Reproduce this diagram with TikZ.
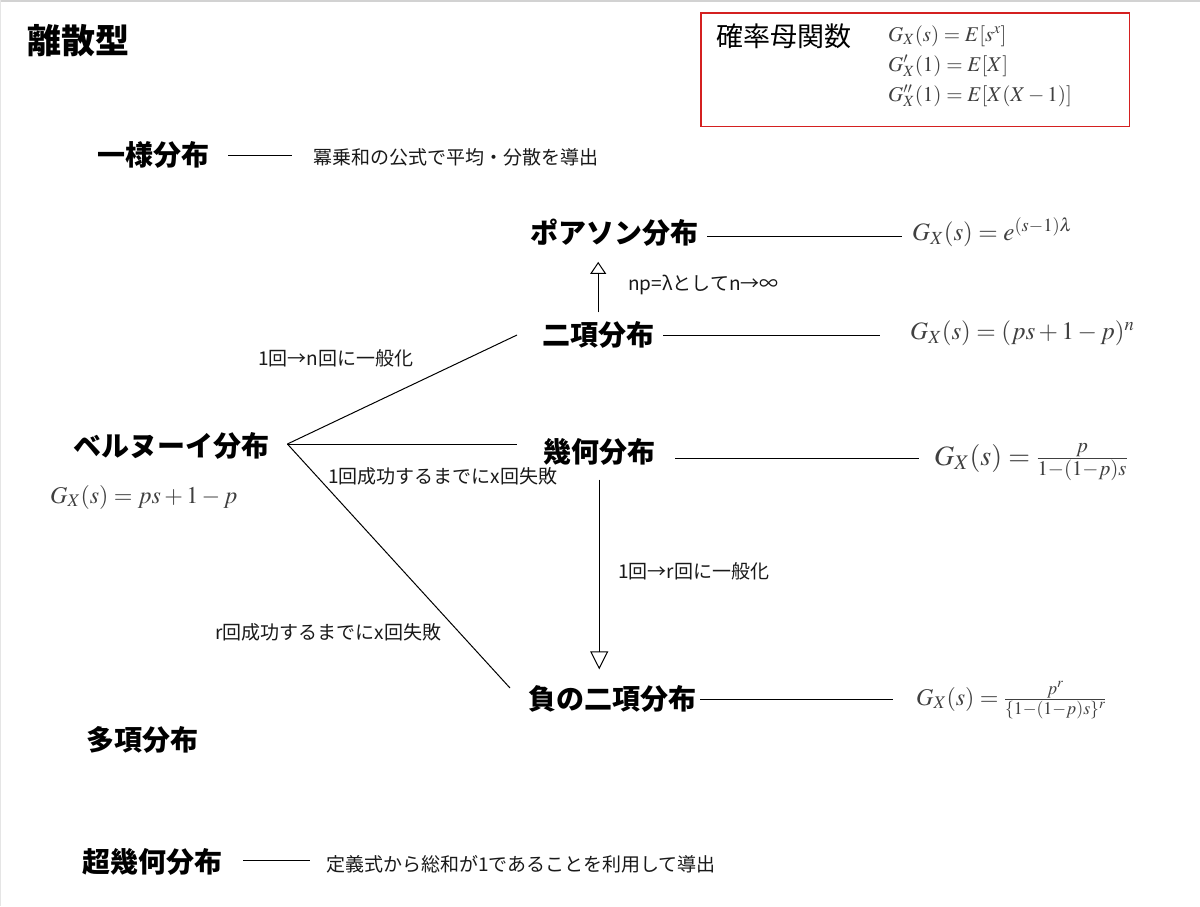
\documentclass[tikz,border=0pt]{standalone}
\usepackage{mathptmx}
\usepackage[no-math]{fontspec}
\newfontfamily\jp{Noto Sans CJK JP}
\usetikzlibrary{arrows.meta,calc}
\definecolor{boxred}{RGB}{212,32,32}
\tikzset{
  head/.style={font=\jp\bfseries\fontsize{28}{32}\selectfont, inner sep=0pt, anchor=west},
  note/.style={font=\jp\fontsize{19}{23}\selectfont, inner sep=0pt, anchor=west, text=black!90},
  formula/.style={font=\fontsize{25}{29}\selectfont, inner sep=0pt, anchor=west, text=black!75},
  boxformula/.style={formula, font=\fontsize{21}{25}\selectfont, anchor=base west},
  link/.style={draw=black, line width=1pt},
  openarrow/.style={-{Triangle[open, length=18pt, width=18pt, line width=1pt]}, line width=1.2pt},
  smallopenarrow/.style={-{Triangle[open, length=12pt, width=16pt, line width=1pt]}, line width=1.2pt}
}
\begin{document}
\begin{tikzpicture}[x=1pt,y=-1pt]
\useasboundingbox (0,0) rectangle (1200,906);
\fill[white] (0,0) rectangle (1200,906);
\draw[gray!35, line width=2pt] (0,1) -- (1200,1);
\draw[gray!20, line width=1pt] (0.5,0) -- (0.5,906);

\node[head, font=\jp\bfseries\fontsize{34}{40}\selectfont] (title) at (27,41) {離散型};

% probability generating function box
\node[minimum width=428pt, minimum height=113pt, inner sep=0pt, anchor=north west] (pgfbox) at (701,13) {};
\draw[boxred, line width=1.5pt] (pgfbox.north west) rectangle (pgfbox.south east);
\node[font=\jp\fontsize{27}{30}\selectfont, inner sep=0pt, anchor=west] (pgftitle) at (716,36) {確率母関数};
\node[boxformula] (pgf1) at (888,41) {$G_X(s)=E[s^x]$};
\node[boxformula] (pgf2) at (888,71) {$G'_X(1)=E[X]$};
\node[boxformula] (pgf3) at (888,101) {$G''_X(1)=E[X(X-1)]$};

% uniform
\node[head] (uni) at (97,155) {一様分布};
\node[note] (unid) at (313,157) {冪乗和の公式で平均・分散を導出};
\draw[link] ([xshift=19pt]uni.east) -- ($(uni.east -| unid.west)+(-21,0)$);

% Poisson
\node[head] (poi) at (530,233) {ポアソン分布};
\node[formula] (poif) at (912,232) {$G_X(s) = e^{(s-1)\lambda}$};
\draw[link] ([shift={(9pt,-3pt)}]poi.east) -- ($(poi.east -| poif.west)+(-10,3)$);

% binomial
\node[head] (bin) at (542,335) {二項分布};
\node[formula] (binf) at (910,333) {$G_X(s) = (ps+1-p)^n$};
\draw[link] ([xshift=9pt]bin.east) -- ($(bin.east -| binf.west)+(-30,0)$);

\coordinate (upS) at ([yshift=9pt]bin.north);
\draw[smallopenarrow] (upS) -- ($(upS |- poi.south)+(0,15)$);
\node[note] (lim) at (628,285) {np=λとしてn→∞};

% geometric
\node[head] (geo) at (543,452) {幾何分布};
\node[formula, font=\fontsize{28}{32}\selectfont] (geof) at (934,462) {$G_X(s) = \frac{p}{1-(1-p)s}$};
\draw[link] ([shift={(20pt,-6pt)}]geo.east) -- ($(geo.east -| geof.west)+(-15,6)$);

% negative binomial
\node[head] (nb) at (528,699) {負の二項分布};
\node[formula, font=\fontsize{24}{28}\selectfont] (nbf) at (916,700) {$G_X(s) = \frac{p^r}{\{1-(1-p)s\}^r}$};
\draw[link] ([xshift=4pt]nb.east) -- ($(nb.east -| nbf.west)+(-23,0)$);

\coordinate (dnS) at ([yshift=-14pt]geo.south);
\draw[openarrow] (dnS) -- ($(dnS |- nb.north)+(0,-16)$);
\node[note] (gen2) at (618,571) {1回→r回に一般化};

% Bernoulli
\node[head] (ber) at (73,446) {ベルヌーイ分布};
\node[formula, font=\fontsize{24}{28}\selectfont] (berf) at (50,497) {$G_X(s) = ps + 1 - p$};
\coordinate (fork) at ([shift={(18pt,2pt)}]ber.east);
\draw[link] (fork) -- ([xshift=-25pt]bin.west);
\draw[link] (fork) -- ($(fork -| geo.west)+(-26,0)$);
\draw[link] (fork) -- ([shift={(-18pt,11pt)}]nb.west);
\node[note] (gen1) at (258,358) {1回→n回に一般化};
\node[note] (fail1) at (328,476) {1回成功するまでにx回失敗};
\node[note] (failr) at (215,632) {r回成功するまでにx回失敗};

% multinomial
\node[head] (multi) at (86,740) {多項分布};

% hypergeometric
\node[head] (hyp) at (82,862) {超幾何分布};
\node[note] (hypd) at (326,864) {定義式から総和が1であることを利用して導出};
\draw[link] ([shift={(21pt,2pt)}]hyp.east) -- ($(hyp.east -| hypd.west)+(-16,-2)$);
\end{tikzpicture}
\end{document}
